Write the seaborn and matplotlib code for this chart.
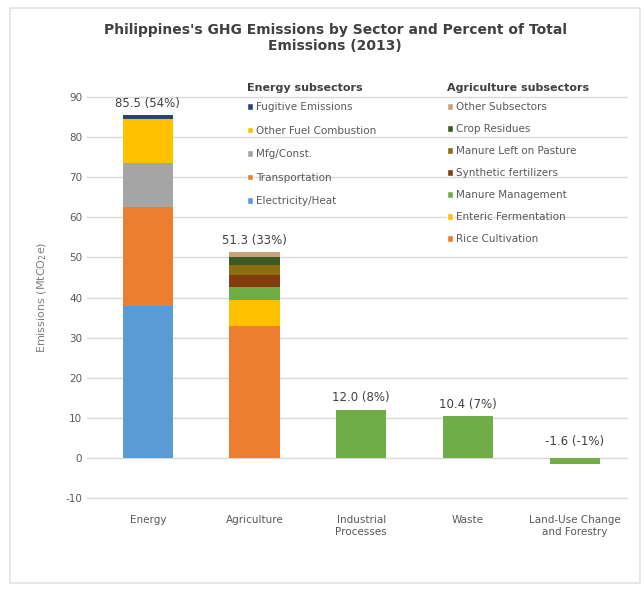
import pandas as pd
import numpy as np
import matplotlib.pyplot as plt
import seaborn as sns
from matplotlib.patches import Patch, Rectangle

# ============================================================================
# DATA (MtCO2e, 2013)
# ============================================================================

sectors = ["Energy", "Agriculture", "Industrial\nProcesses", "Waste",
           "Land-Use Change\nand Forestry"]

# stacked from the bottom up
energy_subsectors = ["Electricity/Heat", "Transportation", "Mfg/Const.",
                     "Other Fuel Combustion", "Fugitive Emissions"]
energy_values = [38.0, 24.5, 11.0, 11.0, 1.0]
energy_colors = ["#5B9BD5", "#ED7D31", "#A5A5A5", "#FFC000", "#264478"]

agri_subsectors = ["Rice Cultivation", "Enteric Fermentation", "Manure Management",
                   "Synthetic fertilizers", "Manure Left on Pasture",
                   "Crop Residues", "Other Subsectors"]
agri_values = [33.0, 6.5, 3.0, 3.0, 2.5, 2.0, 1.3]
agri_colors = ["#ED7D31", "#FFC000", "#70AD47", "#843C0C", "#8C6D12",
               "#3A5A22", "#C8A27A"]

other_sectors = ["Industrial\nProcesses", "Waste", "Land-Use Change\nand Forestry"]
other_values = [12.0, 10.4, -1.6]
other_color = "#70AD47"

totals = [85.5, 51.3, 12.0, 10.4, -1.6]
shares = ["54%", "33%", "8%", "7%", "-1%"]

# ============================================================================
# PLOT
# ============================================================================

sns.set_style("white")
plt.rcParams['font.family'] = ['DejaVu Sans']
plt.rcParams['axes.unicode_minus'] = False

fig = plt.figure(figsize=(6.44, 5.91), dpi=100)
ax = fig.add_axes([87 / 644, 1 - 498 / 591, (627 - 87) / 644, (498 - 97) / 591])

bar_w = 0.47

# stacked bars: draw cumulative tops from the top layer down
layers = []
for name, vals, cols in [("Energy", energy_values, energy_colors),
                         ("Agriculture", agri_values, agri_colors)]:
    cum = np.cumsum(vals)
    for top, c in zip(cum, cols):
        layers.append((name, top, c))

for name, top, c in sorted(layers, key=lambda t: -t[1]):
    df = pd.DataFrame({"sector": [name], "value": [top]})
    sns.barplot(data=df, x="sector", y="value", order=sectors, color=c,
                saturation=1, width=bar_w, linewidth=0, ax=ax, zorder=3)

df_other = pd.DataFrame({"sector": other_sectors, "value": other_values})
sns.barplot(data=df_other, x="sector", y="value", order=sectors, color=other_color,
            saturation=1, width=bar_w, linewidth=0, ax=ax, zorder=3)

# value labels
for i, (tot, sh) in enumerate(zip(totals, shares)):
    y = tot + 3 if tot > 0 else 4
    ax.text(i, y, f"{tot:.1f} ({sh})", ha="center", va="center",
            fontsize=8.5, color="#404040", zorder=4)

ax.set_ylim(-10, 90)
ax.set_yticks(np.arange(-10, 91, 10))
ax.set_xlim(-0.57, 4.49)
ax.yaxis.grid(True, color="#D9D9D9", linewidth=1)
for gl in ax.get_ygridlines():
    gl.set_clip_on(False)
ax.set_axisbelow(True)
for s in ax.spines.values():
    s.set_visible(False)
ax.tick_params(axis="both", length=0, labelsize=7.5, labelcolor="#595959")
ax.tick_params(axis="x", pad=12)
for lbl in ax.get_xticklabels():
    lbl.set_linespacing(1.35)
ax.set_xlabel("")
ax.set_ylabel("Emissions (MtCO$_2$e)", fontsize=8, color="#7F7F7F", labelpad=12)

fig.text(335 / 644, 1 - 38 / 591,
         "Philippines's GHG Emissions by Sector and Percent of Total\nEmissions (2013)",
         ha="center", va="center", fontsize=10, fontweight="bold", color="#404040",
         linespacing=1.15)

# legends (headers as separate text)
fig.text(247 / 644, 1 - 88 / 591, "Energy subsectors", ha="left", va="center",
         fontsize=8, fontweight="bold", color="#404040")
fig.text(447 / 644, 1 - 88 / 591, "Agriculture subsectors", ha="left", va="center",
         fontsize=8, fontweight="bold", color="#404040")

e_handles = [Patch(facecolor=c, label=l) for l, c in
             zip(energy_subsectors[::-1], energy_colors[::-1])]
a_handles = [Patch(facecolor=c, label=l) for l, c in
             zip(agri_subsectors[::-1], agri_colors[::-1])]

leg_kw = dict(loc="upper left", bbox_transform=fig.transFigure, frameon=False,
              fontsize=7.5, handlelength=0.6, handleheight=0.6, handletextpad=0.3,
              borderaxespad=0, borderpad=0, labelcolor="#595959")
fig.legend(handles=e_handles, labelspacing=1.3,
           bbox_to_anchor=(247 / 644, 1 - 102 / 591), **leg_kw)
fig.legend(handles=a_handles, labelspacing=1.15,
           bbox_to_anchor=(447 / 644, 1 - 102 / 591), **leg_kw)

# light frame around the whole chart
fig.patches.append(Rectangle((10 / 644, 8 / 591), 630 / 644, 575 / 591,
                             transform=fig.transFigure, fill=False,
                             edgecolor="#E3E3E3", linewidth=1.2))

plt.savefig("out.png", dpi=100)
